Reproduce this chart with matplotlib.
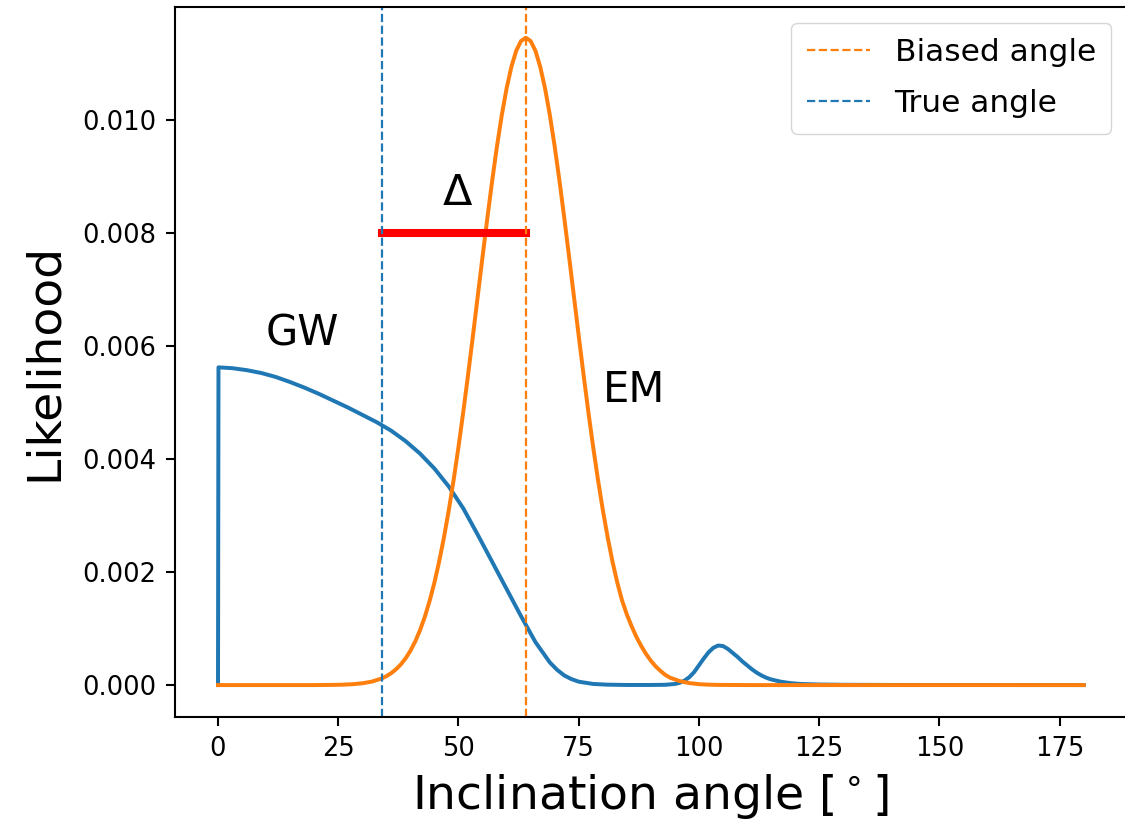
import numpy as np
import matplotlib
matplotlib.use("Agg")
import matplotlib.pyplot as plt

# GW likelihood
gw_x = [0, 0.1, 3, 6, 9, 12, 15, 18, 21, 24, 27, 30, 33, 36, 39, 42, 45, 48, 51, 54,
        57, 60, 63, 66, 69, 70.5, 72, 73.5, 75, 78, 81, 85, 90, 93, 95, 96, 97, 98,
        99, 100, 101, 102, 103, 104, 105, 106, 107, 108, 109, 110, 111, 112, 113, 114,
        115, 117, 119, 121, 125, 130, 140, 180]
gw_y = [0, 0.00562, 0.005605, 0.00557, 0.00552, 0.00545, 0.00536, 0.00526, 0.00515,
        0.00503, 0.00491, 0.00478, 0.00465, 0.00450, 0.004315, 0.004095, 0.00383,
        0.00351, 0.003125, 0.00266, 0.00218, 0.00170, 0.00122, 0.00076, 0.00040,
        0.00027, 0.00017, 0.000105, 0.00006, 0.00002, 0.000007, 0.000002, 0.000002,
        0.000005, 0.00002, 0.00004, 0.00008, 0.00014, 0.00023, 0.00035, 0.00047,
        0.00058, 0.00066, 0.00070, 0.00069, 0.00064, 0.00057, 0.00050, 0.00042,
        0.00035, 0.00028, 0.00022, 0.00017, 0.00013, 0.00010, 0.00006, 0.000035,
        0.00002, 0.00001, 0.000005, 0.000002, 0]

# EM likelihood
em_x = [0, 10, 20, 24, 26, 28, 30, 32] + list(range(34, 95)) + [96, 98, 100, 102, 104, 110, 180]
em_y = [0, 0, 0, 0.0000033, 0.0000072, 0.0000154, 0.0000314, 0.0000616,
        0.000116, 0.000157, 0.00021, 0.000278, 0.000364, 0.000472, 0.000606, 0.00077,
        0.000969, 0.001207, 0.001488, 0.001815, 0.002192, 0.002621, 0.003102,
        0.003633, 0.004212, 0.004834, 0.005492, 0.006176, 0.006875, 0.007574,
        0.00826, 0.008917, 0.009529, 0.010079, 0.010553, 0.010936, 0.011219,
        0.011392, 0.01145, 0.011392, 0.011219, 0.010936, 0.010553, 0.010079,
        0.009529, 0.008917, 0.00826, 0.007574, 0.006875, 0.006176, 0.005492,
        0.004834, 0.004212, 0.003633, 0.003102, 0.002621, 0.002192, 0.00182, 0.0015,
        0.00125, 0.00104, 0.00085, 0.00069, 0.00055, 0.00043, 0.00033, 0.00025,
        0.00018, 0.00013,
        0.00007, 0.000035, 0.000016, 0.000007, 0.000003, 0, 0]

true_angle = 34
biased_angle = 64
delta_level = 0.008

fig = plt.figure(figsize=(11.25, 8.26), dpi=100)
ax = fig.add_axes([0.1553, 0.1316, 0.8465, 0.860])

ax.plot(gw_x, gw_y, color='C0', lw=2.85)
ax.plot(em_x, em_y, color='C1', lw=2.85)
ax.plot([true_angle, biased_angle], [delta_level, delta_level], color='red', lw=5.8)
ax.axvline(biased_angle, color='C1', ls='--', lw=1.6, label='Biased angle')
ax.axvline(true_angle, color='C0', ls='--', lw=1.6, label='True angle')

ax.text(10, 0.006, 'GW', fontsize=30)
ax.text(80, 0.005, 'EM', fontsize=30)
ax.text(46.5, 0.0085, r'$\Delta$', fontsize=31)

ax.set_ylim(-0.00057, 0.011995)
ax.set_xlabel(r'Inclination angle [$^\circ$]', fontsize=34, labelpad=7.6)
ax.set_ylabel('Likelihood', fontsize=34, labelpad=11)
ax.tick_params(labelsize=18.5, length=6.7, width=1.5, pad=6.7)
for s in ax.spines.values():
    s.set_linewidth(1.5)

ax.legend(loc='upper right', fontsize=22.5, borderpad=0.5, labelspacing=0.7)

fig.savefig('out.png', dpi=100)
